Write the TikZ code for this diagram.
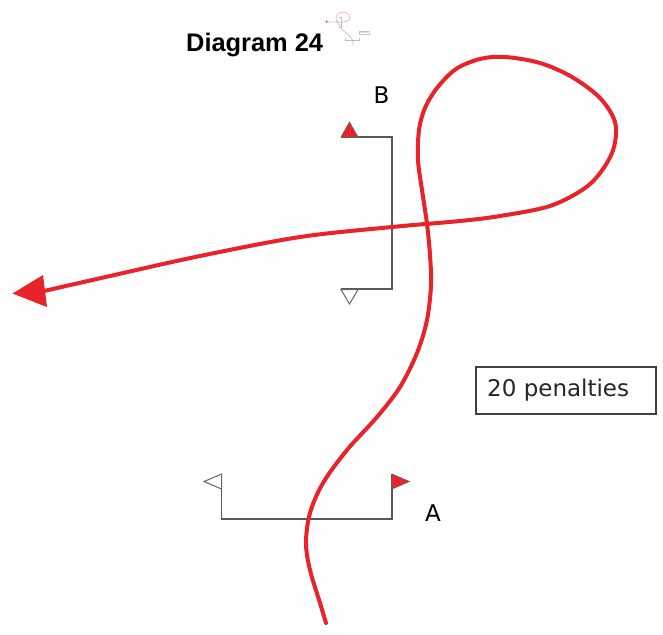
\documentclass[tikz,border=0pt]{standalone}
\usepackage{fontspec}
\setmainfont{DejaVu Sans}
\newfontfamily\arialfont{Liberation Sans}
\begin{document}
\begin{tikzpicture}[x=1pt,y=-1pt,
  gline/.style={draw=black!65, line width=1.6pt},
  redpath/.style={draw=flagred, line width=4pt, line cap=round},
  lbl/.style={font=\fontsize{23}{27}\selectfont, inner sep=0pt}]
\definecolor{flagred}{HTML}{E8232A}
\definecolor{thumbpink}{HTML}{F2B8BC}
\useasboundingbox (0,0) rectangle (663,634);
\fill[white] (0,0) rectangle (663,634);
% title
\node[font=\arialfont\bfseries\fontsize{25.4}{29}\selectfont, anchor=base west, inner sep=0pt] (title) at (186,52) {Diagram 24};
% thumbnail
\draw[thumbpink, line width=0.8pt] plot[smooth, tension=0.6] coordinates {(353,46) (352,39) (346,33) (340,27) (336,19) (338,14) (344,12) (349,15) (349,20) (343,22) (335,22) (327,22)};
\fill[flagred!80] (326.5,21.7) circle (1.2);
\draw[black!25, line width=0.4pt] (345,38) -- (345,40) -- (359,40) -- (359,38);
\draw[black!25, line width=0.4pt] (339,17) -- (341,17) -- (341,27) -- (339,27);
\node[draw=black!20, line width=0.3pt, font=\fontsize{2.5}{3}\selectfont, text=black!40, inner sep=0.4pt] (thumbtxt) at (364,33) {20 pen};
% gate B
\draw[gline] (340.5,137) -- (392,137) -- (392,289) -- (340.5,289);
\fill[flagred, draw=black!60, line width=0.6pt] (341,137) -- (349.5,122) -- (358,137) -- cycle;
\draw[draw=black!60, fill=white, line width=1pt] (341,289.5) -- (358,289.5) -- (349.5,304) -- cycle;
\node[lbl] (B) at (381.5,95) {B};
% gate A
\draw[gline] (221.5,474) -- (221.5,519) -- (392,519) -- (392,474);
\draw[draw=black!60, fill=white, line width=1pt] (221.5,474) -- (221.5,489) -- (204,481.5) -- cycle;
\fill[flagred, draw=black!60, line width=0.6pt] (392,474) -- (392,489) -- (409.5,481.5) -- cycle;
\node[lbl] (A) at (433,513) {A};
% penalties box
\node[draw=black!75, line width=1.2pt, minimum width=180pt, minimum height=47pt, inner sep=0pt] (pen) at (566,390.5) {};
\node[anchor=west, inner sep=0pt, font=\fontsize{23}{27}\selectfont, text=black!85] (pentxt) at (487,390.5) {20 penalties};
% red course
\draw[redpath] plot[smooth, tension=0.55] coordinates {
 (326,623) (320,603) (310,570) (306,543) (310,513) (323,483) (347,450) (377,417) (400,387) (417,353)
 (427,320) (431,285) (430,255) (427,224) (422,190) (418,160) (419,130) (425,108) (437,88) (456,69)
 (480,59) (505,57) (540,63) (572,77) (600,98) (615,122) (614,147) (603,169) (585,188) (550,206)
 (500,216) (460,221) (392,227) (300,237) (200,256) (110,276) (44,291)};
\fill[flagred] (12.5,293.5) -- (43,275) -- (47,307) -- cycle;
\end{tikzpicture}
\end{document}
